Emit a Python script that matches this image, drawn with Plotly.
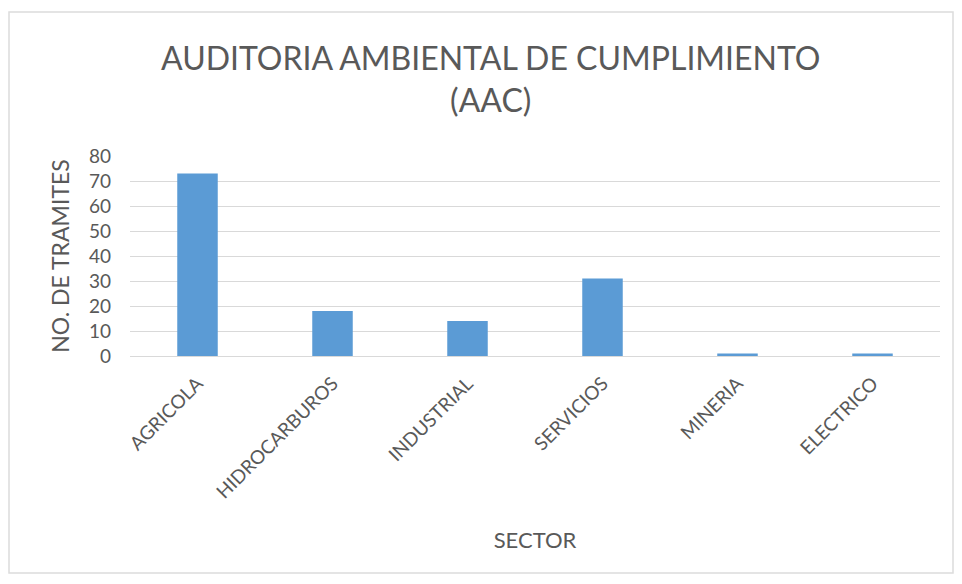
import plotly.graph_objects as go

sectors = ["AGRICOLA", "HIDROCARBUROS", "INDUSTRIAL", "SERVICIOS", "MINERIA", "ELECTRICO"]
tramites = [73, 18, 14, 31, 1, 1]
y_ticks = [0, 10, 20, 30, 40, 50, 60, 70, 80]

title_text = "AUDITORIA AMBIENTAL DE CUMPLIMIENTO<br>(AAC)"
x_title = "SECTOR"
y_title = "NO. DE TRAMITES"

font_family = "Lato, Carlito, Open Sans, sans-serif"
text_color = "#595959"

fig = go.Figure(
    go.Bar(
        x=sectors,
        y=tramites,
        marker=dict(color="#5b9bd5", line=dict(width=0)),
    )
)

fig.update_layout(
    width=954,
    height=576,
    margin=dict(l=122, r=22, t=148, b=228),
    paper_bgcolor="white",
    plot_bgcolor="white",
    bargap=0.7,
    showlegend=False,
    font=dict(family=font_family, color=text_color),
    title=dict(
        text=title_text,
        x=0.506,
        xanchor="center",
        y=0.892,
        yanchor="top",
        font=dict(size=32, color=text_color, family=font_family),
    ),
    shapes=[
        dict(
            type="rect", xref="paper", yref="paper",
            x0=-121 / 810, x1=823 / 810, y0=-217 / 200, y1=344 / 200,
            line=dict(color="#dcdcdc", width=1.5), fillcolor="rgba(0,0,0,0)",
            layer="below",
        )
    ],
)

fig.update_xaxes(
    tickangle=-45,
    tickfont=dict(size=19, color=text_color),
    showgrid=False,
    showline=True,
    linecolor="#d9d9d9",
    linewidth=1,
    ticks="",
    ticklabelstandoff=8,
    title=dict(text=x_title, font=dict(size=22, color=text_color), standoff=31),
)

fig.update_yaxes(
    range=[0, 80],
    tickvals=y_ticks,
    tickfont=dict(size=19, color=text_color),
    showgrid=True,
    gridcolor="#d9d9d9",
    gridwidth=1,
    zeroline=False,
    showline=False,
    ticks="",
    ticklabelstandoff=18,
    title=dict(text=y_title, font=dict(size=23, color=text_color), standoff=12),
)

fig.write_html("out.html")
